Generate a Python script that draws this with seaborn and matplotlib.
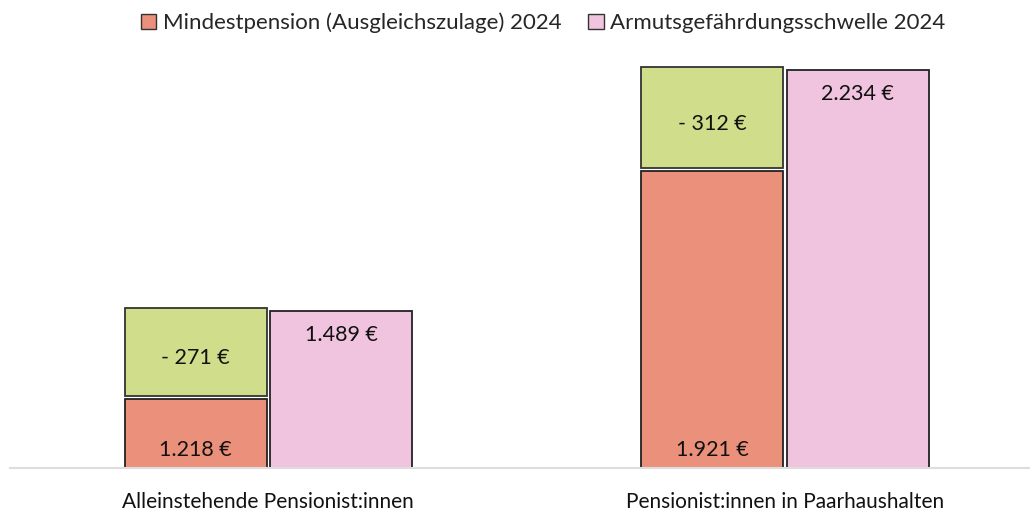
import pandas as pd
import seaborn as sns
import matplotlib.pyplot as plt
import matplotlib.transforms as mtransforms

# Daten
categories = ["Alleinstehende Pensionist:innen", "Pensionist:innen in Paarhaushalten"]
series = ["Mindestpension (Ausgleichszulage) 2024", "Armutsgefährdungsschwelle 2024"]
mindestpension = [1218, 1921]
schwelle = [1489, 2234]
luecke = [271, 312]

c_min = "#EB907B"
c_schw = "#F0C3DF"
c_gap = "#D0DE8C"

def fmt(v):
    return f"{v:,}".replace(",", ".") + " €"

df = pd.DataFrame({
    "kategorie": categories * 2,
    "reihe": [series[0]] * 2 + [series[1]] * 2,
    "wert": mindestpension + schwelle,
})

sns.set_theme(style="white")
plt.rcParams["font.family"] = ["Lato", "DejaVu Sans"]

fig = plt.figure(figsize=(10.30, 5.11), dpi=100)
ax = fig.add_axes([10 / 1030, 43 / 511, 1020 / 1030, 429 / 511])

sns.barplot(df, x="kategorie", y="wert", hue="reihe", hue_order=series,
            palette=[c_min, c_schw], saturation=1, width=0.563, gap=0.025,
            edgecolor="#222222", linewidth=1.3, ax=ax, legend=False)

# Lücke (grün) oberhalb der Mindestpension, leicht abgesetzt
shift = mtransforms.offset_copy(ax.transData, fig=fig, x=0, y=3, units="dots")
for p, base, g in zip(ax.containers[0], mindestpension, luecke):
    xc = p.get_x() + p.get_width() / 2
    ax.bar(xc, g, bottom=base, width=p.get_width(), color=c_gap,
           edgecolor="#333333", linewidth=1.3, transform=shift)
    ax.annotate(f"- {fmt(g)}", (xc, base + g / 2), xytext=(0, -2), textcoords="offset points",
                ha="center", va="center", fontsize=15.5, color="#111111")

for p, v in zip(ax.containers[0], mindestpension):
    xc = p.get_x() + p.get_width() / 2
    ax.annotate(fmt(v), (xc, 1005), xytext=(0, 13), textcoords="offset points",
                ha="center", va="center", fontsize=15.5, color="#111111")

for p, v in zip(ax.containers[1], schwelle):
    xc = p.get_x() + p.get_width() / 2
    ax.annotate(fmt(v), (xc, v), xytext=(0, -17), textcoords="offset points",
                ha="center", va="center", fontsize=15.5, color="#111111")

ax.set_ylim(1005, 2330)
ax.set_xlim(-0.5, 1.474)
ax.set_xlabel("")
ax.set_ylabel("")
ax.set_yticks([])
for s in ["top", "right", "left"]:
    ax.spines[s].set_visible(False)
ax.spines["bottom"].set_color("#dddddd")
ax.spines["bottom"].set_linewidth(1.5)
ax.tick_params(axis="x", length=0, pad=17, labelsize=15, labelcolor="#111111")

handles = [plt.Rectangle((0, 0), 1, 1, facecolor=c, edgecolor="#333333", linewidth=1)
           for c in [c_min, c_schw]]
fig.legend(handles, series, loc="center", bbox_to_anchor=(543 / 1030, 1 - 23 / 511),
           ncol=2, frameon=False, fontsize=16, handlelength=0.7, handleheight=0.7,
           handletextpad=0.3, columnspacing=1.2)

fig.savefig("out.png", dpi=100)
